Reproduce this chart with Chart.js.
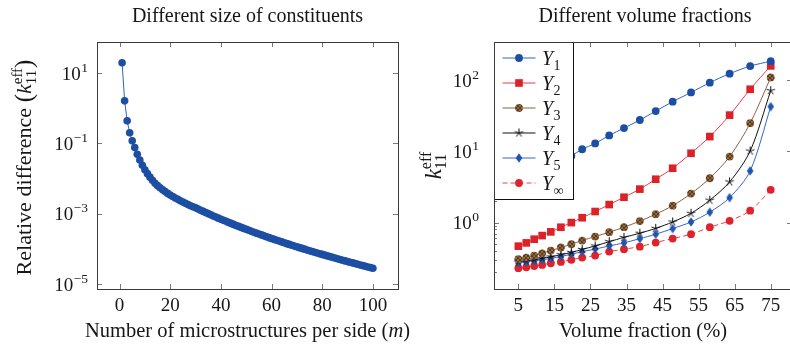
<!DOCTYPE html>
<html>
<head>
<meta charset="utf-8">
<script src="https://cdn.jsdelivr.net/npm/chart.js"></script>
<style>
  html, body { margin: 0; padding: 0; background: #fff; overflow: hidden; width: 790px; height: 347px; }
  .box { position: absolute; top: 0; height: 347px; }
  #leftBox { left: 0; width: 440px; }
  #rightBox { left: 400px; width: 400px; }
</style>
</head>
<body>
<div id="leftBox" class="box"><canvas id="sizeChart"></canvas></div>
<div id="rightBox" class="box"><canvas id="volChart"></canvas></div>
<script>
// ---- left panel: relative difference vs m ----
const sideCounts = Array.from({ length: 100 }, (_, i) => i + 1);
const relDiff = [
  19.5, 1.62, 0.437, 0.2, 0.118, 0.0759, 0.049, 0.0339, 0.024, 0.0178,
  0.0138, 0.011, 0.00891, 0.00741, 0.00631, 0.0055, 0.00479, 0.00427, 0.0038, 0.00343,
  0.00309, 0.00282, 0.00257, 0.00234, 0.00216, 0.002, 0.00184, 0.0017, 0.00158, 0.00148,
  1.37e-3, 1.26e-3, 1.17e-3, 1.09e-3, 1.01e-3, 9.35e-4, 8.69e-4, 8.09e-4, 7.53e-4, 7.01e-4,
  6.55e-4, 6.11e-4, 5.70e-4, 5.33e-4, 4.99e-4, 4.67e-4, 4.38e-4, 4.10e-4, 3.85e-4, 3.61e-4,
  3.40e-4, 3.19e-4, 3.00e-4, 2.82e-4, 2.66e-4, 2.51e-4, 2.36e-4, 2.23e-4, 2.10e-4, 1.99e-4,
  1.87e-4, 1.77e-4, 1.68e-4, 1.59e-4, 1.50e-4, 1.42e-4, 1.35e-4, 1.28e-4, 1.21e-4, 1.15e-4,
  1.09e-4, 1.04e-4, 9.89e-5, 9.40e-5, 8.93e-5, 8.51e-5, 8.11e-5, 7.73e-5, 7.36e-5, 7.01e-5,
  6.68e-5, 6.37e-5, 6.07e-5, 5.78e-5, 5.52e-5, 5.27e-5, 5.04e-5, 4.81e-5, 4.59e-5, 4.39e-5,
  4.20e-5, 4.02e-5, 3.85e-5, 3.68e-5, 3.52e-5, 3.37e-5, 3.23e-5, 3.09e-5, 2.96e-5, 2.84e-5
];
const sizeXTicks = [0, 20, 40, 60, 80, 100];
const sizeYTicks = [1e-5, 1e-3, 1e-1, 1e1];

// ---- right panel: k11 vs volume fraction ----
const volFractions = [5, 7.2, 9.4, 11.6, 14, 16.8, 19.7, 22.7, 26.3, 30.2, 34.3, 38.7, 43.1, 47.8, 52.9, 58.1, 63.6, 69.3, 75];
const y1 = [2.75, 3.3, 4.0, 4.8, 5.8, 7.0, 8.6, 10.7, 12.9, 16.7, 21.2, 27.5, 36.7, 49.7, 67, 92, 123, 157, 184];
const y2 = [0.467, 0.519, 0.585, 0.657, 0.741, 0.861, 1.0, 1.17, 1.43, 1.79, 2.27, 2.95, 4.06, 5.79, 9.4, 16.1, 32.2, 74.3, 158];
const y3 = [0.306, 0.323, 0.344, 0.371, 0.405, 0.447, 0.497, 0.56, 0.637, 0.733, 0.861, 1.05, 1.31, 1.73, 2.55, 4.19, 8.43, 24.8, 109];
const y4 = [0.28, 0.29, 0.30, 0.315, 0.33, 0.355, 0.38, 0.42, 0.47, 0.54, 0.62, 0.71, 0.83, 1.02, 1.35, 2.06, 3.72, 10.1, 71];
const y5 = [0.27, 0.28, 0.29, 0.30, 0.315, 0.335, 0.36, 0.39, 0.425, 0.47, 0.52, 0.595, 0.687, 0.824, 1.02, 1.40, 2.24, 5.31, 42.4];
const yInf = [0.229, 0.236, 0.245, 0.255, 0.269, 0.281, 0.30, 0.323, 0.344, 0.392, 0.424, 0.46, 0.525, 0.597, 0.687, 0.861, 1.06, 1.47, 2.88];
const seriesSubs = ['1', '2', '3', '4', '5', '\u221e'];
const volXTicks = [5, 15, 25, 35, 45, 55, 65, 75];
const volYTicks = [1, 10, 100];

const SERIF = '"Liberation Serif", "DejaVu Serif", serif';
const INK = '#161616';

// rich text: parts drawn in a row, "stack" puts a part over the previous one (sub + sup)
function drawRich(ctx, parts, x, y, angle, align) {
  ctx.save();
  ctx.translate(x, y);
  ctx.rotate(angle || 0);
  ctx.textBaseline = 'alphabetic';
  ctx.textAlign = 'left';
  ctx.fillStyle = INK;
  let px = 0, lastStart = 0;
  const starts = parts.map(p => {
    ctx.font = (p.italic ? 'italic ' : '') + p.size + 'px ' + SERIF;
    const w = ctx.measureText(p.t).width;
    const sx = p.stack ? lastStart : px;
    lastStart = sx;
    px = Math.max(px, sx + w + (p.dx || 0));
    return sx;
  });
  const off = align === 'right' ? -px : align === 'left' ? 0 : -px / 2;
  parts.forEach((p, i) => {
    ctx.font = (p.italic ? 'italic ' : '') + p.size + 'px ' + SERIF;
    ctx.fillText(p.t, starts[i] + off + (p.dx || 0), p.dy || 0);
  });
  ctx.restore();
}

function powLabel(v) {
  const e = Math.round(Math.log10(v));
  return [{ t: '10', size: 19 }, { t: e < 0 ? '\u2212' + (-e) : String(e), size: 13.5, dy: -8, dx: 0.5 }];
}

// frame, inward ticks, y labels, titles
function decorPlugin(cfg) {
  return {
    id: 'decor',
    afterDraw(chart) {
      const { ctx, chartArea: a, scales } = chart;
      const xs = scales.x, ys = scales.y;
      ctx.save();
      ctx.lineWidth = 1;
      ctx.strokeStyle = '#7a7a7a';
      ctx.beginPath();
      cfg.xTicks.forEach(v => {
        const px = Math.round(xs.getPixelForValue(v)) + 0.5;
        ctx.moveTo(px, a.bottom); ctx.lineTo(px, a.bottom - 5);
        ctx.moveTo(px, a.top); ctx.lineTo(px, a.top + 5);
      });
      cfg.yTicks.forEach(v => {
        const py = Math.round(ys.getPixelForValue(v)) + 0.5;
        ctx.moveTo(a.left, py); ctx.lineTo(a.left + 5, py);
        ctx.moveTo(a.right, py); ctx.lineTo(a.right - 5, py);
      });
      if (cfg.minor) {
        for (let e = Math.floor(Math.log10(ys.min)); e <= Math.ceil(Math.log10(ys.max)); e++) {
          for (let k = 2; k <= 9; k++) {
            const v = k * Math.pow(10, e);
            if (v < ys.min || v > ys.max) continue;
            const py = Math.round(ys.getPixelForValue(v)) + 0.5;
            ctx.moveTo(a.left, py); ctx.lineTo(a.left + 3, py);
          }
        }
      }
      ctx.stroke();

      if (cfg.legend) cfg.legend(chart);

      ctx.strokeStyle = '#3a3a3a';
      ctx.strokeRect(Math.round(a.left) + 0.5, Math.round(a.top) + 0.5,
        Math.round(a.right - a.left), Math.round(a.bottom - a.top));

      cfg.yTicks.forEach(v => {
        drawRich(ctx, powLabel(v), a.left - cfg.labelGap, ys.getPixelForValue(v) + 6.5, 0, 'right');
      });

      const cx = (a.left + a.right) / 2;
      drawRich(ctx, [{ t: cfg.title, size: 20 }], cx + cfg.titleShift, 22, 0, 'center');
      drawRich(ctx, cfg.xTitle, cx + cfg.xTitleShift, 337, 0, 'center');
      drawRich(ctx, cfg.yTitle, cfg.yTitleX, (a.top + a.bottom) / 2 + cfg.yTitleShift, -Math.PI / 2, 'center');
      ctx.restore();
    }
  };
}

function baseScales(xr, yr, xTicks, yTicks, yWidth) {
  return {
    x: {
      type: 'linear', min: xr[0], max: xr[1],
      grid: { display: false, drawTicks: false }, border: { display: false },
      ticks: { font: { family: SERIF, size: 19 }, color: INK, padding: 6, maxRotation: 0 },
      afterBuildTicks: s => { s.ticks = xTicks.map(v => ({ value: v })); },
      afterFit: s => { s.height = 58; }
    },
    y: {
      type: 'logarithmic', min: yr[0], max: yr[1],
      grid: { display: false, drawTicks: false }, border: { display: false },
      ticks: { display: false },
      afterBuildTicks: s => { s.ticks = yTicks.map(v => ({ value: v })); },
      afterFit: s => { s.width = yWidth; }
    }
  };
}

// left chart
new Chart(document.getElementById('sizeChart'), {
  type: 'line',
  data: {
    datasets: [{
      label: 'relative difference',
      data: sideCounts.map((m, i) => ({ x: m, y: relDiff[i] })),
      borderColor: '#2f62c0',
      borderWidth: 1,
      pointRadius: 3.8,
      pointBackgroundColor: '#1c4fa4',
      pointBorderWidth: 0,
      tension: 0
    }]
  },
  options: {
    responsive: true, maintainAspectRatio: false, animation: false, events: [],
    layout: { padding: { top: 42, right: 42, left: 0, bottom: 0 } },
    plugins: { legend: { display: false }, tooltip: { enabled: false } },
    scales: baseScales([-8.9, 109.9], [7.3e-6, 76], sizeXTicks, sizeYTicks, 97)
  },
  plugins: [decorPlugin({
    xTicks: sizeXTicks, yTicks: sizeYTicks, minor: false, labelGap: 9,
    title: 'Different size of constituents', titleShift: 0,
    xTitle: [{ t: 'Number of microstructures per side (', size: 20.5 }, { t: 'm', size: 20.5, italic: true }, { t: ')', size: 20.5 }],
    xTitleShift: 0,
    yTitle: [{ t: 'Relative difference ', size: 22 }, { t: '(', size: 25, dy: 1 }, { t: 'k', size: 22, italic: true },
      { t: '11', size: 15, dy: 5 }, { t: 'eff', size: 15, dy: -9, stack: true }, { t: ')', size: 25, dy: 1 }],
    yTitleX: 31, yTitleShift: 2
  })]
});

// right chart markers
const volCanvas = document.getElementById('volChart');
function hatchPattern(ctx) {
  const c = document.createElement('canvas');
  c.width = 4; c.height = 4;
  const g = c.getContext('2d');
  g.fillStyle = '#95693f';
  g.fillRect(0, 0, 4, 4);
  g.strokeStyle = 'rgba(70,40,15,0.9)';
  g.lineWidth = 0.8;
  g.beginPath();
  g.moveTo(0, 0); g.lineTo(4, 4);
  g.moveTo(4, 0); g.lineTo(0, 4);
  g.stroke();
  return ctx.createPattern(c, 'repeat');
}
function starMark() {
  const c = document.createElement('canvas');
  c.width = 11; c.height = 11;
  const g = c.getContext('2d');
  g.strokeStyle = '#111';
  g.lineWidth = 1;
  g.beginPath();
  for (let k = 0; k < 5; k++) {
    const t = -Math.PI / 2 + k * 2 * Math.PI / 5;
    g.moveTo(5.5, 5.5);
    g.lineTo(5.5 + 4.5 * Math.cos(t), 5.5 + 4.5 * Math.sin(t));
  }
  g.stroke();
  return c;
}
function diamondMark() {
  const c = document.createElement('canvas');
  c.width = 8; c.height = 10;
  const g = c.getContext('2d');
  g.fillStyle = '#1f55b0';
  g.beginPath();
  g.moveTo(4, 0.3); g.lineTo(7.3, 5); g.lineTo(4, 9.7); g.lineTo(0.7, 5);
  g.closePath();
  g.fill();
  return c;
}

const series = [
  { data: y1, line: '#2f62c0', fill: '#1c4fa4', style: 'circle', r: 3.9 },
  { data: y2, line: '#ee3a42', fill: '#dc2229', style: 'rect', r: 5.4 },
  { data: y3, line: '#8b6240', fill: hatchPattern(volCanvas.getContext('2d')), style: 'circle', r: 3.9 },
  { data: y4, line: '#111111', fill: '#111111', style: starMark(), r: 4 },
  { data: y5, line: '#3566c4', fill: '#1f55b0', style: diamondMark(), r: 4 },
  { data: yInf, line: '#ec4048', fill: '#e0232b', style: 'circle', r: 3.9, dash: [5, 3] }
];

function volLegend(chart) {
  const { ctx, chartArea: a } = chart;
  const lx = Math.round(a.left) + 0.5, ly = Math.round(a.top) + 0.5;
  ctx.save();
  ctx.fillStyle = '#fff';
  ctx.fillRect(lx, ly, 79, 157);
  ctx.strokeStyle = '#111';
  ctx.lineWidth = 1;
  ctx.strokeRect(lx, ly, 79, 157);
  chart.data.datasets.forEach((ds, i) => {
    const cy = ly + 15.5 + i * 25;
    ctx.strokeStyle = ds.borderColor;
    ctx.lineWidth = 1;
    ctx.setLineDash(ds.borderDash || []);
    ctx.beginPath();
    ctx.moveTo(lx + 8, cy); ctx.lineTo(lx + 41, cy);
    ctx.stroke();
    ctx.setLineDash([]);
    ctx.fillStyle = ds.pointBackgroundColor;
    ctx.strokeStyle = ds.pointBackgroundColor;
    Chart.helpers.drawPoint(ctx, { pointStyle: ds.pointStyle, radius: ds.pointRadius, borderWidth: 0, rotation: 0 }, lx + 24.5, cy);
    drawRich(ctx, [{ t: 'Y', size: 20, italic: true }, { t: seriesSubs[i], size: 14, dy: 4.5, dx: 0.5 }], lx + 47.5, cy + 7, 0, 'left');
  });
  ctx.restore();
}

new Chart(volCanvas, {
  type: 'line',
  data: {
    datasets: series.map((s, i) => ({
      label: 'Y' + seriesSubs[i],
      data: volFractions.map((v, j) => ({ x: v, y: s.data[j] })),
      borderColor: s.line,
      borderWidth: 1,
      borderDash: s.dash || [],
      pointStyle: s.style,
      pointRadius: s.r,
      pointBackgroundColor: s.fill,
      pointBorderWidth: 0,
      tension: 0.3
    }))
  },
  options: {
    responsive: true, maintainAspectRatio: false, animation: false, events: [],
    layout: { padding: { top: 42, right: 8, left: 0, bottom: 0 } },
    plugins: { legend: { display: false }, tooltip: { enabled: false } },
    scales: baseScales([-1.75, 80.9], [0.117, 342], volXTicks, volYTicks, 94)
  },
  plugins: [decorPlugin({
    xTicks: volXTicks, yTicks: volYTicks, minor: true, labelGap: 15, legend: volLegend,
    title: 'Different volume fractions', titleShift: 2,
    xTitle: [{ t: 'Volume fraction (%)', size: 20.5 }], xTitleShift: 0,
    yTitle: [{ t: 'k', size: 23, italic: true }, { t: '11', size: 16, dy: 5 }, { t: 'eff', size: 16, dy: -10, stack: true }],
    yTitleX: 41, yTitleShift: 0
  })]
});
</script>
</body>
</html>
